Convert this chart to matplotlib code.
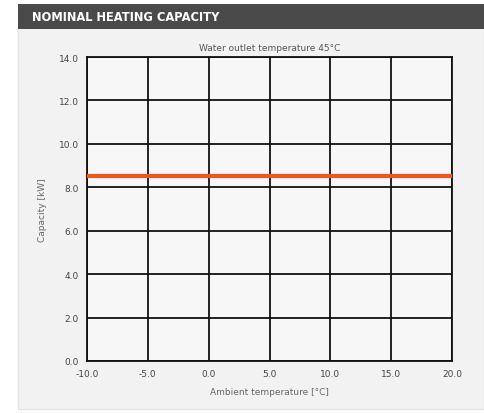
import matplotlib.pyplot as plt
from matplotlib.patches import Rectangle

ambient = [-10, -5, 0, 5, 10, 15, 20]
capacity = [8.5, 8.5, 8.5, 8.5, 8.5, 8.5, 8.5]
x_ticks = [-10, -5, 0, 5, 10, 15, 20]
y_ticks = [0, 2, 4, 6, 8, 10, 12, 14]

W, H = 484, 414
fig = plt.figure(figsize=(W / 100, H / 100), dpi=100)
fig.patch.set_facecolor('white')

# panel and header bar, kept behind the axes
fig.add_artist(Rectangle((18 / W, 0.01), 1 - 18 / W, 384 / H, transform=fig.transFigure,
                         facecolor='#f2f2f2', edgecolor='#e4e4e4', lw=1, zorder=-5))
fig.add_artist(Rectangle((18 / W, 1 - 30 / H), 1 - 18 / W, 25 / H, transform=fig.transFigure,
                         facecolor='#4a4a4a', edgecolor='none', zorder=-4))
fig.text(32 / W, 1 - 17.5 / H, 'NOMINAL HEATING CAPACITY', color='white', fontsize=8.3,
         fontweight='bold', va='center', ha='left')

ax = fig.add_axes([87 / W, 1 - 362 / H, (452 - 87) / W, (362 - 58) / H])
ax.set_facecolor('#f7f7f7')
ax.plot(ambient, capacity, color='#f0561a', lw=3, zorder=3)

ax.set_xlim(-10, 20)
ax.set_ylim(0, 14)
ax.set_xticks(x_ticks)
ax.set_yticks(y_ticks)
ax.set_xticklabels([f'{v:.1f}' for v in x_ticks])
ax.set_yticklabels([f'{v:.1f}' for v in y_ticks])
ax.grid(True, color='#111111', lw=1.3)
for s in ax.spines.values():
    s.set_color('#111111')
    s.set_linewidth(1.3)
ax.tick_params(length=0, labelsize=6.5, labelcolor='#444444', pad=6)

ax.set_title('Water outlet temperature 45°C', fontsize=6.5, color='#555555', pad=5)
ax.set_xlabel('Ambient temperature [°C]', fontsize=6.5, color='#666666', labelpad=6)
ax.set_ylabel('Capacity [kW]', fontsize=6.5, color='#666666', labelpad=8)

fig.savefig('out.png', dpi=100)
